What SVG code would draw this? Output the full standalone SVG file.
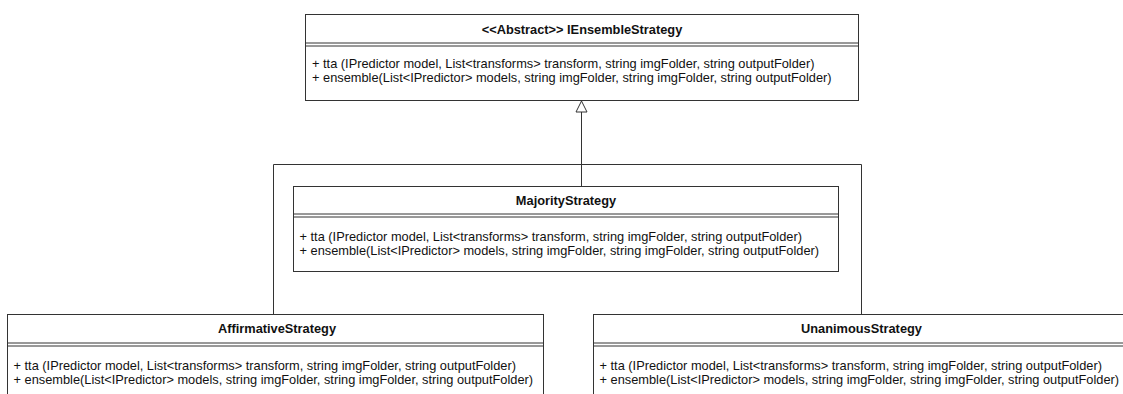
<svg xmlns="http://www.w3.org/2000/svg" width="1123" height="394" viewBox="0 0 1123 394">
  <style>
    .box { fill: #ffffff; stroke: #333333; stroke-width: 1; }
    .sep { stroke: #333333; stroke-width: 1; fill: none; }
    .title { font-family: "Liberation Sans", Arial, sans-serif; font-size: 12.8px; font-weight: bold; fill: #111111; text-anchor: middle; }
    .member { font-family: "Liberation Sans", Arial, sans-serif; font-size: 12.8px; fill: #111111; }
    .edge { stroke: #333333; stroke-width: 1; fill: none; }
  </style>
  <rect width="1123" height="394" fill="#ffffff"/>

  <!-- generalization connectors -->
  <g id="connectors">
    <path class="edge" d="M581.5 112 V186"/>
    <path class="edge" d="M273.5 314 V164.5 H861.5 V314"/>
    <polygon points="581.5,101 576,112 587,112" fill="#ffffff" stroke="#333333" stroke-width="1"/>
  </g>

  <g id="IEnsembleStrategy">
    <rect class="box" x="305.5" y="14.5" width="553" height="86"/>
    <line class="sep" x1="305.5" y1="43" x2="858.5" y2="43"/>
    <line class="sep" x1="305.5" y1="46" x2="858.5" y2="46"/>
    <text class="title" x="582" y="34">&lt;&lt;Abstract&gt;&gt; IEnsembleStrategy</text>
    <text class="member" x="312" y="67.5">+ tta (IPredictor model, List&lt;transforms&gt; transform, string imgFolder, string outputFolder)</text>
    <text class="member" x="312" y="82">+ ensemble(List&lt;IPredictor&gt; models, string imgFolder, string imgFolder, string outputFolder)</text>
  </g>

  <g id="MajorityStrategy">
    <rect class="box" x="293.5" y="186.5" width="545" height="85"/>
    <line class="sep" x1="293.5" y1="214" x2="838.5" y2="214"/>
    <line class="sep" x1="293.5" y1="217" x2="838.5" y2="217"/>
    <text class="title" x="566" y="204.5">MajorityStrategy</text>
    <text class="member" x="299.5" y="240.5">+ tta (IPredictor model, List&lt;transforms&gt; transform, string imgFolder, string outputFolder)</text>
    <text class="member" x="299.5" y="255">+ ensemble(List&lt;IPredictor&gt; models, string imgFolder, string imgFolder, string outputFolder)</text>
  </g>

  <g id="AffirmativeStrategy">
    <rect class="box" x="7.5" y="314.5" width="536" height="100"/>
    <line class="sep" x1="7.5" y1="343" x2="543.5" y2="343"/>
    <line class="sep" x1="7.5" y1="346" x2="543.5" y2="346"/>
    <text class="title" x="277" y="332.5">AffirmativeStrategy</text>
    <text class="member" x="13.5" y="369.5">+ tta (IPredictor model, List&lt;transforms&gt; transform, string imgFolder, string outputFolder)</text>
    <text class="member" x="13.5" y="384">+ ensemble(List&lt;IPredictor&gt; models, string imgFolder, string imgFolder, string outputFolder)</text>
  </g>

  <g id="UnanimousStrategy">
    <rect class="box" x="593.5" y="314.5" width="536" height="100"/>
    <line class="sep" x1="593.5" y1="343" x2="1129.5" y2="343"/>
    <line class="sep" x1="593.5" y1="346" x2="1129.5" y2="346"/>
    <text class="title" x="861.5" y="332.5">UnanimousStrategy</text>
    <text class="member" x="599.5" y="369.5">+ tta (IPredictor model, List&lt;transforms&gt; transform, string imgFolder, string outputFolder)</text>
    <text class="member" x="599.5" y="384">+ ensemble(List&lt;IPredictor&gt; models, string imgFolder, string imgFolder, string outputFolder)</text>
  </g>
</svg>
